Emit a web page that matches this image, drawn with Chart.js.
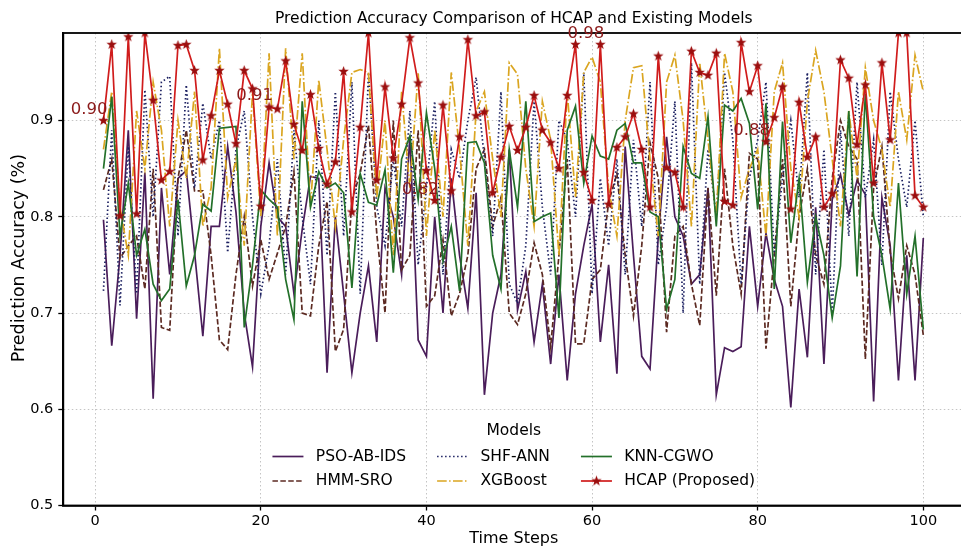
<!DOCTYPE html>
<html>
<head>
<meta charset="utf-8">
<script src="https://cdn.jsdelivr.net/npm/chart.js@4.4.1/dist/chart.umd.min.js"></script>
<style>
  html, body { margin: 0; padding: 0; background: #fff; }
  #wrap { width: 961px; height: 548px; overflow: hidden; }
</style>
</head>
<body>
<div id="wrap"><canvas id="chart" width="975" height="548"></canvas></div>
<script>
/* ----- data ----- */
const steps = Array.from({ length: 100 }, (_, i) => i + 1);
const xTicks = [0, 20, 40, 60, 80, 100];
const yTicks = [0.5, 0.6, 0.7, 0.8, 0.9];
const noteSteps = [1, 21, 41, 61, 81];

const psoAbIds = [
  0.797, 0.666, 0.76, 0.89, 0.694, 0.846, 0.611, 0.83, 0.74, 0.84,
  0.848, 0.763, 0.676, 0.79, 0.79, 0.873, 0.805, 0.70, 0.644, 0.79,
  0.856, 0.80, 0.79, 0.72, 0.787, 0.842, 0.84, 0.638, 0.80, 0.72,
  0.638, 0.70, 0.749, 0.67, 0.83, 0.80, 0.74, 0.884, 0.672, 0.655,
  0.80, 0.70, 0.84, 0.76, 0.705, 0.825, 0.615, 0.70, 0.74, 0.87,
  0.703, 0.743, 0.67, 0.73, 0.647, 0.74, 0.63, 0.72, 0.77, 0.813,
  0.67, 0.75, 0.637, 0.873, 0.76, 0.655, 0.642, 0.78, 0.883, 0.80,
  0.78, 0.73, 0.74, 0.83, 0.615, 0.664, 0.66, 0.665, 0.79, 0.707,
  0.783, 0.735, 0.707, 0.602, 0.725, 0.654, 0.81, 0.647, 0.818, 0.844,
  0.802, 0.838, 0.823, 0.608, 0.82, 0.77, 0.63, 0.76, 0.63, 0.778
];
const hmmSro = [
  0.828, 0.86, 0.757, 0.77, 0.78, 0.725, 0.85, 0.685, 0.682, 0.84,
  0.89, 0.827, 0.827, 0.76, 0.672, 0.662, 0.74, 0.80, 0.728, 0.776,
  0.735, 0.762, 0.79, 0.847, 0.70, 0.697, 0.77, 0.816, 0.66, 0.683,
  0.818, 0.845, 0.895, 0.783, 0.70, 0.90, 0.745, 0.76, 0.89, 0.707,
  0.718, 0.776, 0.697, 0.72, 0.76, 0.85, 0.87, 0.79, 0.82, 0.70,
  0.688, 0.72, 0.773, 0.74, 0.665, 0.76, 0.86, 0.668, 0.668, 0.735,
  0.745, 0.815, 0.845, 0.76, 0.697, 0.77, 0.877, 0.84, 0.68, 0.78,
  0.79, 0.73, 0.687, 0.83, 0.718, 0.85, 0.77, 0.72, 0.866, 0.86,
  0.663, 0.76, 0.86, 0.707, 0.80, 0.85, 0.76, 0.73, 0.84, 0.90,
  0.873, 0.86, 0.652, 0.83, 0.873, 0.763, 0.715, 0.77, 0.74, 0.677
];
const shfAnn = [
  0.723, 0.89, 0.708, 0.873, 0.72, 0.932, 0.80, 0.94, 0.946, 0.78,
  0.937, 0.83, 0.918, 0.86, 0.90, 0.763, 0.87, 0.91, 0.80, 0.72,
  0.77, 0.86, 0.74, 0.89, 0.80, 0.73, 0.90, 0.76, 0.93, 0.78,
  0.94, 0.72, 0.95, 0.81, 0.77, 0.86, 0.79, 0.91, 0.75, 0.83,
  0.92, 0.74, 0.87, 0.84, 0.90, 0.945, 0.86, 0.78, 0.93, 0.73,
  0.71, 0.77, 0.92, 0.81, 0.74, 0.90, 0.88, 0.80, 0.95, 0.72,
  0.84, 0.77, 0.86, 0.74, 0.88, 0.79, 0.94, 0.75, 0.81, 0.92,
  0.70, 0.96, 0.73, 0.87, 0.80, 0.95, 0.88, 0.73, 0.84, 0.88,
  0.94, 0.76, 0.84, 0.90, 0.82, 0.95, 0.74, 0.87, 0.70, 0.89,
  0.78, 0.94, 0.82, 0.88, 0.75, 0.93, 0.86, 0.81, 0.90, 0.80
];
const xgBoost = [
  0.87, 0.93, 0.81, 0.76, 0.91, 0.85, 0.94, 0.89, 0.79, 0.90,
  0.84, 0.93, 0.79, 0.83, 0.975, 0.82, 0.86, 0.77, 0.93, 0.80,
  0.97, 0.78, 0.975, 0.86, 0.97, 0.81, 0.942, 0.87, 0.79, 0.88,
  0.95, 0.953, 0.95, 0.82, 0.90, 0.76, 0.93, 0.83, 0.95, 0.78,
  0.89, 0.80, 0.95, 0.87, 0.77, 0.91, 0.93, 0.86, 0.80, 0.96,
  0.948, 0.85, 0.79, 0.92, 0.88, 0.76, 0.93, 0.82, 0.95, 0.966,
  0.94, 0.83, 0.78, 0.90, 0.955, 0.957, 0.86, 0.78, 0.94, 0.968,
  0.90, 0.79, 0.96, 0.88, 0.80, 0.97, 0.93, 0.82, 0.85, 0.87,
  0.78, 0.93, 0.96, 0.85, 0.80, 0.92, 0.973, 0.93, 0.86, 0.79,
  0.91, 0.84, 0.955, 0.90, 0.87, 0.81, 0.93, 0.88, 0.968, 0.93
];
const knnCgwo = [
  0.85, 0.925, 0.78, 0.835, 0.76, 0.787, 0.73, 0.713, 0.725, 0.818,
  0.728, 0.76, 0.813, 0.806, 0.892, 0.893, 0.894, 0.685, 0.75, 0.828,
  0.818, 0.81, 0.735, 0.693, 0.92, 0.81, 0.847, 0.83, 0.835, 0.825,
  0.726, 0.845, 0.815, 0.812, 0.849, 0.742, 0.86, 0.884, 0.818, 0.908,
  0.85, 0.754, 0.79, 0.723, 0.877, 0.878, 0.856, 0.76, 0.725, 0.87,
  0.81, 0.92, 0.795, 0.80, 0.804, 0.695, 0.89, 0.915, 0.835, 0.884,
  0.863, 0.86, 0.89, 0.897, 0.856, 0.856, 0.805, 0.80, 0.704, 0.735,
  0.873, 0.845, 0.84, 0.904, 0.79, 0.916, 0.91, 0.923, 0.897, 0.808,
  0.918, 0.725, 0.899, 0.773, 0.84, 0.732, 0.80, 0.76, 0.695, 0.749,
  0.91, 0.738, 0.928, 0.80, 0.76, 0.704, 0.835, 0.72, 0.78, 0.683
];
const hcap = [
  0.900, 0.979, 0.801, 0.987, 0.803, 0.991, 0.921, 0.838, 0.847, 0.978,
  0.979, 0.952, 0.859, 0.905, 0.952, 0.917, 0.876, 0.952, 0.933, 0.811,
  0.914, 0.912, 0.962, 0.896, 0.869, 0.927, 0.871, 0.834, 0.857, 0.951,
  0.805, 0.893, 0.991, 0.838, 0.935, 0.861, 0.917, 0.986, 0.939, 0.848,
  0.817, 0.916, 0.827, 0.883, 0.984, 0.905, 0.909, 0.825, 0.862, 0.894,
  0.869, 0.893, 0.926, 0.890, 0.877, 0.850, 0.926, 0.979, 0.846, 0.817,
  0.979, 0.813, 0.872, 0.883, 0.907, 0.870, 0.810, 0.967, 0.851, 0.846,
  0.810, 0.972, 0.950, 0.947, 0.970, 0.816, 0.812, 0.981, 0.930, 0.957,
  0.878, 0.903, 0.935, 0.808, 0.919, 0.862, 0.883, 0.810, 0.824, 0.963,
  0.944, 0.875, 0.937, 0.835, 0.960, 0.880, 0.991, 0.991, 0.822, 0.810
];

/* ----- styles ----- */
const FONT = "'DejaVu Sans', sans-serif";

function makeStar(r, fill) {
  const c = document.createElement('canvas');
  c.width = c.height = Math.ceil(r * 2 + 2);
  const g = c.getContext('2d');
  const m = c.width / 2;
  g.beginPath();
  for (let k = 0; k < 10; k++) {
    const rad = k % 2 ? r * 0.42 : r;
    const a = -Math.PI / 2 + k * Math.PI / 5;
    g.lineTo(m + rad * Math.cos(a), m + rad * Math.sin(a));
  }
  g.closePath();
  g.fillStyle = fill;
  g.fill();
  return c;
}
const star = makeStar(5.5, '#9b0f0f');

const series = [
  { label: 'PSO-AB-IDS', data: psoAbIds, color: '#4a1d5a', dash: [] },
  { label: 'HMM-SRO', data: hmmSro, color: '#5c2a22', dash: [5.5, 2.4] },
  { label: 'SHF-ANN', data: shfAnn, color: '#1c2061', dash: [1.5, 2.5] },
  { label: 'XGBoost', data: xgBoost, color: '#daa520', dash: [9.6, 2.4, 1.5, 2.4] },
  { label: 'KNN-CGWO', data: knnCgwo, color: '#23702a', dash: [] },
  { label: 'HCAP (Proposed)', data: hcap, color: '#d01c1c', dash: [], marker: star }
];

const datasets = series.map((s, k) => ({
  label: s.label,
  data: steps.map((x, i) => ({ x, y: s.data[i] })),
  borderColor: s.color,
  backgroundColor: s.color,
  borderWidth: 1.7,
  borderDash: s.dash,
  pointStyle: s.marker || 'circle',
  pointRadius: s.marker ? 5 : 0,
  tension: 0,
  fill: false,
  clip: 0,
  order: series.length - k
}));

/* ----- plugins ----- */
const framePlugin = {
  id: 'frame',
  afterDatasetsDraw(chart) {
    const { ctx, chartArea: a } = chart;
    ctx.save();
    ctx.strokeStyle = '#000';
    ctx.lineWidth = 1.8;
    ctx.strokeRect(a.left, a.top, a.right - a.left, a.bottom - a.top);
    ctx.restore();
  }
};

const notePlugin = {
  id: 'notes',
  afterDatasetsDraw(chart) {
    const { ctx, scales: { x, y } } = chart;
    ctx.save();
    ctx.font = `16.5px ${FONT}`;
    ctx.fillStyle = '#8b1a1a';
    ctx.textAlign = 'right';
    ctx.textBaseline = 'middle';
    noteSteps.forEach(s => {
      const v = hcap[s - 1];
      ctx.fillText(v.toFixed(2), x.getPixelForValue(s) + 4, y.getPixelForValue(v) - 11);
    });
    ctx.restore();
  }
};

// matplotlib-style legend: title + 2 rows x 3 columns, lower center inside the axes
const legendPlugin = {
  id: 'innerLegend',
  afterDraw(chart) {
    const { ctx, chartArea: a } = chart;
    const fs = 15.5;
    const handle = 2 * fs, pad = 0.8 * fs, colGap = 2 * fs;
    const cols = [[series[0], series[1]], [series[2], series[3]], [series[4], series[5]]];
    ctx.save();
    ctx.font = `${fs}px ${FONT}`;
    const widths = cols.map(c => Math.max(...c.map(s => ctx.measureText(s.label).width)));
    const total = widths.reduce((t, w) => t + w, 0) + cols.length * (handle + pad) + (cols.length - 1) * colGap;
    const cx = (a.left + a.right) / 2;
    const row2 = a.bottom - 24.5;
    const rows = [row2 - 24.5, row2];

    ctx.fillStyle = '#000';
    ctx.textAlign = 'center';
    ctx.textBaseline = 'middle';
    ctx.fillText('Models', cx, rows[0] - 25.5);

    ctx.textAlign = 'left';
    let x0 = cx - total / 2;
    cols.forEach((c, ci) => {
      c.forEach((s, ri) => {
        const yy = rows[ri];
        ctx.strokeStyle = s.color;
        ctx.lineWidth = 1.7;
        ctx.setLineDash(s.dash);
        ctx.beginPath();
        ctx.moveTo(x0, yy);
        ctx.lineTo(x0 + handle, yy);
        ctx.stroke();
        ctx.setLineDash([]);
        if (s.marker) ctx.drawImage(s.marker, x0 + handle / 2 - s.marker.width / 2, yy - s.marker.height / 2);
        ctx.fillStyle = '#000';
        ctx.fillText(s.label, x0 + handle + pad, yy);
      });
      x0 += handle + pad + widths[ci] + colGap;
    });
    ctx.restore();
  }
};

/* ----- chart ----- */
const gridOpts = { color: '#c4c4c4', lineWidth: 1, tickLength: 5, tickColor: '#000', tickWidth: 1.3 };
const borderOpts = { color: '#000', width: 1.8, dash: [1.5, 2.5] };
const tickFont = { family: FONT, size: 14.5 };

new Chart(document.getElementById('chart'), {
  type: 'line',
  data: { datasets },
  options: {
    responsive: false,
    animation: false,
    devicePixelRatio: 1,
    layout: { padding: { left: 0, right: 10.7, top: 0, bottom: 0 } },
    plugins: {
      legend: { display: false },
      tooltip: { enabled: false },
      title: {
        display: true,
        text: 'Prediction Accuracy Comparison of HCAP and Existing Models',
        fullSize: false,
        color: '#000',
        font: { family: FONT, size: 15.5, weight: 'normal' },
        padding: { top: 10, bottom: 4.4 }
      }
    },
    scales: {
      x: {
        type: 'linear',
        min: -3.85,
        max: 104.95,
        afterBuildTicks: s => { s.ticks = xTicks.map(v => ({ value: v })); },
        afterFit: s => { s.height = 42.5; },
        ticks: { font: tickFont, color: '#000', padding: 2, maxRotation: 0, minRotation: 0, autoSkip: false },
        grid: gridOpts,
        border: borderOpts,
        title: { display: true, text: 'Time Steps', color: '#000', font: { family: FONT, size: 16 }, padding: 0 }
      },
      y: {
        type: 'linear',
        min: 0.5,
        max: 0.991,
        afterBuildTicks: s => { s.ticks = yTicks.map(v => ({ value: v })); },
        afterFit: s => { s.width = 63.3; },
        ticks: { font: tickFont, color: '#000', padding: 5, callback: v => v.toFixed(1) },
        grid: gridOpts,
        border: borderOpts,
        title: {
          display: true,
          text: '    Prediction Accuracy (%)',
          color: '#000',
          font: { family: FONT, size: 17.5 },
          padding: { top: 8.5, bottom: 0 }
        }
      }
    }
  },
  plugins: [framePlugin, notePlugin, legendPlugin]
});
</script>
</body>
</html>
